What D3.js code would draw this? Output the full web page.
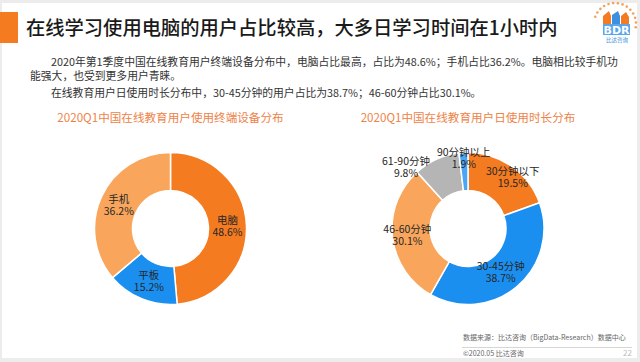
<!DOCTYPE html>
<html>
<head>
<meta charset="utf-8">
<script src="https://cdn.jsdelivr.net/npm/d3@7"></script>
<style>
  html, body { margin: 0; padding: 0; background: #ececec; }
  svg { display: block; font-family: "Noto Sans CJK SC", "Noto Sans", sans-serif; }
</style>
</head>
<body>
<svg id="chart" width="640" height="362"></svg>
<script>
// data
const deviceLabels = ["电脑", "平板", "手机"];
const deviceValues = [48.6, 15.2, 36.2];
const durationLabels = ["30分钟以下", "30-45分钟", "46-60分钟", "61-90分钟", "90分钟以上"];
const durationValues = [19.5, 38.7, 30.1, 9.8, 1.9];

const titleText = "在线学习使用电脑的用户占比较高，大多日学习时间在1小时内";
const bodyLines = [
  "2020年第1季度中国在线教育用户终端设备分布中，电脑占比最高，占比为48.6%；手机占比36.2%。电脑相比较手机功",
  "能强大，也受到更多用户青睐。",
  "在线教育用户日使用时长分布中，30-45分钟的用户占比为38.7%；46-60分钟占比30.1%。"
];
const chartTitles = ["2020Q1中国在线教育用户使用终端设备分布", "2020Q1中国在线教育用户日使用时长分布"];

const svg = d3.select("#chart");
const W = 640, H = 362;

// page
svg.append("rect").attr("x", 2).attr("y", 3).attr("width", W - 5).attr("height", H - 7).attr("fill", "#fff");

// header
svg.append("rect").attr("x", 0).attr("y", 12).attr("width", 18).attr("height", 31).attr("fill", "#f47b20");
svg.append("text").attr("x", 26).attr("y", 35)
  .attr("font-size", 19.3).attr("font-weight", 500).attr("fill", "#1a1a1a")
  .text(titleText);

// body paragraph
const bodyX = [51, 30, 51], bodyY = [66, 80, 97];
bodyLines.forEach((t, i) => {
  svg.append("text").attr("x", bodyX[i]).attr("y", bodyY[i])
    .attr("font-size", 10.8).attr("fill", "#333").text(t);
});

// logo
const logo = svg.append("g").attr("transform", "translate(615,24)");
d3.range(0, 14).forEach(i => {
  const a = (200 + i * 13) * Math.PI / 180;
  logo.append("circle").attr("cx", 21 * Math.cos(a)).attr("cy", 21 * Math.sin(a))
    .attr("r", 1.3).attr("fill", "#f5a15a");
});
logo.append("path").attr("d", "M-12,0 L-12,-8 L-6,-13 L-4,-8 L-4,0 Z").attr("fill", "#f47b20");
logo.append("path").attr("d", "M-3,0 L-3,-9 L3,-13 L5,-8 L5,0 Z").attr("fill", "#3a8fe0");
logo.append("path").attr("d", "M6,0 L6,-8 L11,-12 L14,-7 L14,0 Z").attr("fill", "#f47b20");
logo.append("rect").attr("x", -12).attr("y", 0).attr("width", 27).attr("height", 11).attr("fill", "#5aa6ea");
logo.append("text").attr("x", 1.5).attr("y", 9.5).attr("text-anchor", "middle")
  .attr("font-size", 11).attr("font-weight", "bold").attr("fill", "#fff").attr("font-family", "DejaVu Sans")
  .text("BDR");
logo.append("text").attr("x", 2).attr("y", 18).attr("text-anchor", "middle")
  .attr("font-size", 5.5).attr("fill", "#3a8fe0").text("比达咨询");

// chart titles
const centers = [[170.5, 228.5], [468, 228.5]];
chartTitles.forEach((t, i) => {
  svg.append("text").attr("x", centers[i][0]).attr("y", 122).attr("text-anchor", "middle")
    .attr("font-size", 11.6).attr("fill", "#ee8247").text(t);
});

const outerR = 76, innerR = 38;
const arc = d3.arc().innerRadius(innerR).outerRadius(outerR);
const labelArc = d3.arc().innerRadius(57).outerRadius(57);
const pie = d3.pie().sort(null).value(d => d.value);

function donut(cx, cy, labels, values, colors, labelPos) {
  const data = labels.map((l, i) => ({ label: l, value: values[i] }));
  const g = svg.append("g").attr("transform", `translate(${cx},${cy})`);
  const arcs = pie(data);
  g.selectAll("path").data(arcs).enter().append("path")
    .attr("d", arc)
    .attr("fill", (d, i) => colors[i])
    .attr("stroke", "#fff").attr("stroke-width", 1.5);
  const lab = g.selectAll("g.lab").data(arcs).enter().append("g").attr("class", "lab")
    .attr("transform", (d, i) => {
      const p = labelPos(d, i);
      return `translate(${p[0]},${p[1]})`;
    });
  lab.append("text").attr("text-anchor", "middle").attr("y", -2)
    .attr("font-size", 10.5).attr("fill", "#262626").text(d => d.data.label);
  lab.append("text").attr("text-anchor", "middle").attr("y", 10)
    .attr("font-size", 10.5).attr("fill", "#262626").text(d => d.data.value.toFixed(1) + "%");
}

donut(centers[0][0], centers[0][1], deviceLabels, deviceValues,
  ["#f47b20", "#1a8ff0", "#f9a65c"],
  d => labelArc.centroid(d));

// small slices on the right sit further out
donut(centers[1][0], centers[1][1], durationLabels, durationValues,
  ["#f47b20", "#1a8ff0", "#f9a65c", "#b5b5b5", "#4aa5f2"],
  (d, i) => {
    const c = labelArc.centroid(d);
    if (i === 0) return [c[0] + 12, c[1] - 5];
    if (i === 3) return [-62, -62];
    if (i === 4) return d3.arc().innerRadius(71).outerRadius(71).centroid(d);
    return [c[0] - 4, c[1]];
  });

// footer
svg.append("text").attr("x", 463).attr("y", 340).attr("font-size", 7).attr("fill", "#666")
  .text("数据来源：比达咨询（BigData-Research）数据中心");
svg.append("line").attr("x1", 462).attr("x2", 632).attr("y1", 347.5).attr("y2", 347.5)
  .attr("stroke", "#ccc").attr("stroke-width", 0.8);
svg.append("text").attr("x", 463).attr("y", 356).attr("font-size", 7).attr("fill", "#666")
  .text("©2020.05 比达咨询");
svg.append("text").attr("x", 632).attr("y", 356).attr("text-anchor", "end").attr("font-size", 8).attr("fill", "#bbb")
  .text("22");
</script>
</body>
</html>
